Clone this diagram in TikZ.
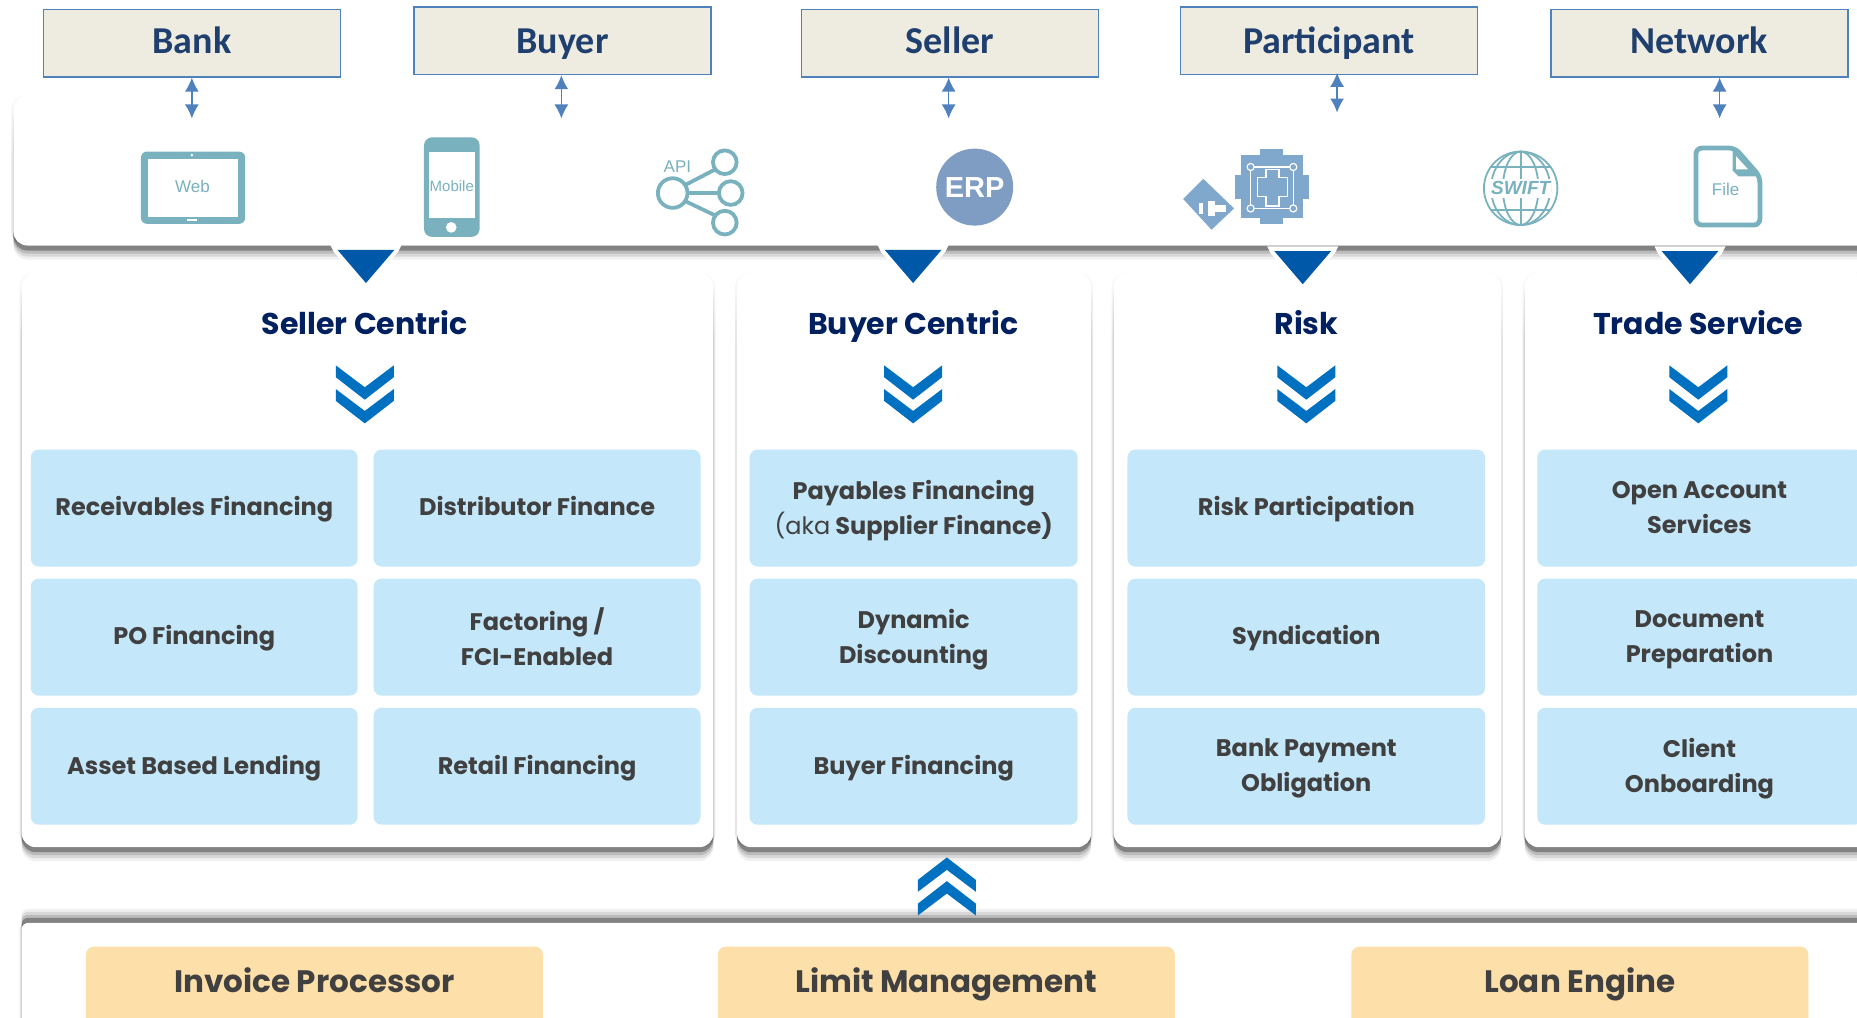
\documentclass[tikz,border=0pt]{standalone}
\usepackage{fontspec}
\usetikzlibrary{shadows}
\usetikzlibrary{fadings}
\usetikzlibrary{arrows.meta}
\newfontfamily\calib{Carlito}
\newfontfamily\gothic{Poppins}
\newfontfamily\arial{Liberation Sans}
\definecolor{boxfill}{HTML}{EEECE1}
\definecolor{boxline}{HTML}{4F81BD}
\definecolor{boxtext}{HTML}{1F3F6E}
\definecolor{headtext}{HTML}{002060}
\definecolor{tileblue}{HTML}{C5E7FA}
\definecolor{tileorange}{HTML}{FDDFA9}
\definecolor{tiletext}{HTML}{404040}
\definecolor{chevblue}{HTML}{0070C0}
\definecolor{triblue}{HTML}{0058A8}
\definecolor{iconteal}{HTML}{7AB1BF}
\definecolor{iconblue}{HTML}{7F9CC2}
\definecolor{chipblue}{HTML}{7FA8CC}
\tikzset{
  softshadow/.style={
    drop shadow={shadow xshift=-1pt,shadow yshift=0pt,opacity=.10,fill=black},
    drop shadow={shadow xshift=1pt,shadow yshift=0pt,opacity=.10,fill=black},
    drop shadow={shadow xshift=0pt,shadow yshift=#1*7pt,opacity=.06,fill=black},
    drop shadow={shadow xshift=0pt,shadow yshift=#1*5.5pt,opacity=.10,fill=black},
    drop shadow={shadow xshift=0pt,shadow yshift=#1*4pt,opacity=.14,fill=black},
    drop shadow={shadow xshift=0pt,shadow yshift=#1*2.5pt,opacity=.30,fill=black}},
  panel/.style n args={2}{fill=white,rounded corners=7pt,softshadow=-1,inner sep=0pt,
    minimum width=#1*0.5922pt,minimum height=#2*0.5922pt},
  actor/.style={draw=boxline,fill=boxfill,line width=0.7pt,text=boxtext,
    font=\calib\bfseries\fontsize{19}{21}\selectfont,text height=13pt,text depth=2.4pt,
    minimum width=148.5pt,minimum height=33.7pt,inner sep=0pt},
  lowtext/.style={text depth=0.6pt},
  biarrow/.style={draw=boxline,line width=0.7pt,{Latex[length=7pt,width=7pt]}-{Latex[length=7pt,width=7pt]}},
  head/.style={text=headtext,text height=12pt,text depth=4pt,font=\gothic\bfseries\fontsize{15}{18}\selectfont},
  tile/.style={fill=tileblue,rounded corners=4pt,text=tiletext,align=center,inner sep=0pt,
    font=\gothic\bfseries\fontsize{12}{17.6}\selectfont,
    execute at begin node=\strut,text depth=4.5pt,
    minimum width=#1*0.5922pt,minimum height=58.5pt},
  twolines/.style={text depth=0.9pt},
  coretile/.style={fill=tileorange,rounded corners=4pt,text=tiletext,anchor=north,inner ysep=0pt,
    font=\gothic\bfseries\fontsize{15.5}{18}\selectfont,
    minimum width=228.5pt,text height=23pt,text depth=20pt},
  icontext/.style={inner sep=0pt,font=\arial\fontsize{8.5}{9}\selectfont,text=iconteal},
  pics/dblchev/.style={code={
    \foreach \dy in {0,20}
      \fill[chevblue] (0,-24.5+\dy) -- (24.5,-5.5+\dy) -- (24.5,4.5+\dy) -- (0,-14+\dy)
        -- (-24.5,4.5+\dy) -- (-24.5,-5.5+\dy) -- cycle;
  }},
  pics/downtri/.style={code={
    \fill[white] (-30,0) -- (30,0) -- (27,6) -- (0,36) -- (-27,6) -- cycle;
    \fill[triblue] (-24,4) -- (24,4) -- (0,32) -- cycle;
  }}
}
\begin{document}
\begin{tikzpicture}[x=0.5922pt,y=-0.5922pt]
\clip (0,0) rectangle (1568,859);

% channels strip
\node[panel={1600}{127},anchor=north west] (channels) at (11,80) {};
\fill[white,path fading=south] (0,70) rectangle (1568,130);

% product panels
\node[panel={584}{485},anchor=north west] (sellerpanel) at (18,230) {};
\node[panel={299}{485},anchor=north west] (buyerpanel) at (622,230) {};
\node[panel={327}{485},anchor=north west] (riskpanel) at (940,230) {};
\node[panel={320}{485},anchor=north west] (tradepanel) at (1287,230) {};
\fill[white,path fading=south] (0,222) rectangle (1568,285);

% core strip, shadow on top
\node[fill=white,rounded corners=3pt,softshadow=1,inner sep=0pt,minimum width=1600*0.5922pt,
  minimum height=120*0.5922pt,anchor=north west] (corepanel) at (18,779) {};

% actors
\node[actor] (bank) at (162,36.5) {Bank};
\node[actor,lowtext] (buyer) at (475,34.5) {Buyer};
\node[actor] (seller) at (802,36.5) {Seller};
\node[actor,lowtext] (participant) at (1122,34.5) {Participant};
\node[actor] (network) at (1435,36.5) {Network};

\coordinate (bank-in) at (162,100);
\coordinate (buyer-in) at (474,100);
\coordinate (seller-in) at (801,100);
\coordinate (participant-in) at (1129,95);
\coordinate (network-in) at (1452,100);
\foreach \who in {bank,buyer,seller,network}
  \draw[biarrow] (\who.south -| \who-in) -- (\who-in);
\draw[biarrow] ([yshift=1.2pt]participant.south -| participant-in) -- (participant-in);

% web
\fill[iconteal,rounded corners=3pt] (119,128) rectangle (207,189);
\fill[white] (125,134) rectangle (201,183);
\fill[white] (162,131) circle (1.2);
\fill[white] (158,185) rectangle (166,187);
\node[icontext] (webtext) at (162.5,157) {Web};

% mobile
\fill[iconteal,rounded corners=4pt] (358,116) rectangle (405,200);
\fill[white] (362,128) rectangle (401,184);
\fill[white] (381,192) circle (4.5);
\node[icontext,font=\arial\fontsize{7.5}{8}\selectfont] (mobiletext) at (381.5,157) {Mobile};

% api
\begin{scope}[draw=iconteal,line width=1.9pt]
\draw (568,163) circle (12.5);
\draw (612,137) circle (10);
\draw (617,163) circle (10);
\draw (612,188) circle (10);
\draw (579,156) -- (604,143);
\draw (580.5,163) -- (607,163);
\draw (579,170) -- (604,182);
\end{scope}
\node[icontext] (apitext) at (572,141) {API};

% erp
\node[circle,fill=iconblue,minimum size=65*0.5922pt,inner sep=0pt,text=white,
  font=\arial\bfseries\fontsize{14.5}{16}\selectfont] (erp) at (823,158) {ERP};

% participant chip
\fill[chipblue] (1048,131) rectangle (1100,184);
\fill[chipblue] (1064,126) rectangle (1083,189);
\fill[chipblue] (1043,148) rectangle (1105,168);
\begin{scope}[draw=white,line width=0.6pt]
\draw (1056,141) rectangle (1092,176);
\draw (1062,150) -- (1069,150) -- (1069,143) -- (1080,143) -- (1080,150) -- (1087,150) -- (1087,166)
  -- (1080,166) -- (1080,174) -- (1069,174) -- (1069,166) -- (1062,166) -- cycle;
\foreach \cx/\cy in {1056/141,1092/141,1056/176,1092/176}
  \filldraw[fill=chipblue] (\cx,\cy) circle (3);
\end{scope}
\fill[chipblue] (1016,151) -- (1042,176) -- (1023,194) -- (999,168) -- cycle;
\fill[white] (1012,171) rectangle (1016,181);
\fill[white] (1020,170) rectangle (1026,182);
\fill[white] (1026,173) rectangle (1035,179);

% swift
\begin{scope}[draw=iconteal,line width=0.9pt]
\draw (1284,159) circle (31);
\draw (1284,128) -- (1284,190);
\draw (1284,159) ellipse (15 and 31);
\draw (1284,159) ellipse (25 and 31);
\draw (1259,141) -- (1309,141);
\draw (1259,177) -- (1309,177);
\end{scope}
\node[fill=white,inner xsep=0.5pt,inner ysep=1.5pt,text=iconteal,
  font=\arial\bfseries\itshape\fontsize{9.5}{10}\selectfont] (swifttext) at (1284,159) {SWIFT};

% file
\draw[iconteal,line width=2.4pt,rounded corners=3pt] (1432,125) -- (1465,125) -- (1486,149) -- (1486,190) -- (1432,190) -- cycle;
\fill[iconteal] (1463,125) -- (1486,149) -- (1468,149) -- (1463,144) -- cycle;
\fill[white] (1466,132) -- (1476,143) -- (1466,143) -- cycle;
\node[icontext] (filetext) at (1457,160) {File};

% arrows into panels
\foreach \tx/\ty in {309/207,771/207,1100/208,1427/208}
  \pic at (\tx,\ty) {downtri};

% panel heads
\node[head] (sellerhead) at (308,276) {Seller Centric};
\node[head] (buyerhead) at (771,276) {Buyer Centric};
\node[head] (riskhead) at (1103,276) {Risk};
\node[head] (tradehead) at (1434,276) {Trade Service};
\foreach \tx in {308,771,1103,1434}
  \pic[yscale=-1] at (\tx,333) {dblchev};

% seller tiles
\node[tile=276] (recv) at (164,429) {Receivables Financing};
\node[tile=276] (pofin) at (164,538) {PO Financing};
\node[tile=276] (asset) at (164,647) {Asset Based Lending};
\node[tile=276] (distrib) at (453.5,429) {Distributor Finance};
\node[tile=276,twolines] (factoring) at (453.5,538) {Factoring /\\FCI-Enabled};
\node[tile=276] (retail) at (453.5,647) {Retail Financing};

% buyer tiles
\node[tile=277,twolines] (payables) at (771.5,429) {Payables Financing\\{\mdseries(aka} Supplier Finance)};
\node[tile=277,twolines] (dynamic) at (771.5,538) {Dynamic\\Discounting};
\node[tile=277] (buyerfin) at (771.5,647) {Buyer Financing};

% risk tiles
\node[tile=302] (riskpart) at (1103,429) {Risk Participation};
\node[tile=302] (syndic) at (1103,538) {Syndication};
\node[tile=302,twolines] (bpo) at (1103,647) {Bank Payment\\Obligation};

% trade tiles
\node[tile=274,twolines] (openacc) at (1435,429) {Open Account\\Services};
\node[tile=274,twolines] (docprep) at (1435,538) {Document\\Preparation};
\node[tile=274,twolines] (client) at (1435,647) {Client\\Onboarding};

\pic at (799.5,748.5) {dblchev};

% core tiles
\node[coretile] (invoice) at (265.5,799) {Invoice Processor};
\node[coretile] (limit) at (799,799) {Limit Management};
\node[coretile] (loan) at (1334,799) {Loan Engine};
\end{tikzpicture}
\end{document}
